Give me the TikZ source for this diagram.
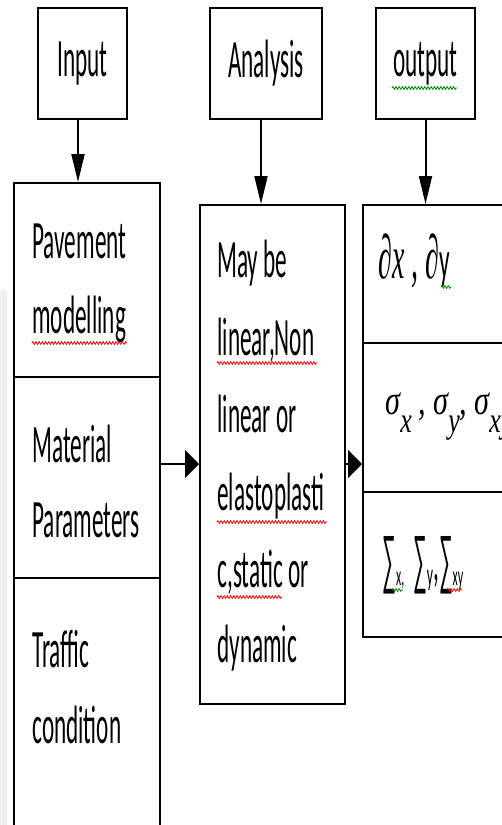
\documentclass[tikz,border=0pt]{standalone}
\usepackage{fontspec}
\setmainfont[FakeStretch=0.43]{Carlito}
\newfontfamily\serit[FakeStretch=0.45]{Liberation Serif}
\newfontfamily\sigfont[FakeStretch=0.72]{Liberation Serif}
\newfontfamily\sumfont[FakeStretch=0.3]{Liberation Sans}
\usetikzlibrary{arrows.meta,decorations.pathmorphing}
\tikzset{
  box/.style={draw, line width=1pt, fill=white, inner sep=0pt, font=\fontsize{27}{27}\selectfont},
  lbl/.style={anchor=base west, inner sep=0pt, font=\fontsize{27}{27}\selectfont},
  varr/.style={line width=1pt, -{Triangle[length=14pt,width=6.5pt]}},
  harr/.style={line width=1pt, -{Triangle[length=7pt,width=14pt]}},
  squig/.style={line width=0.4pt, decorate, decoration={zigzag, segment length=1.6pt, amplitude=0.7pt}},
  redsq/.style={squig, draw=red},
  greensq/.style={squig, draw=green!55!black},
  divider/.style={line width=1pt}
}
\newcommand{\bigsum}{{\sumfont\fontsize{32}{32}\selectfont ∑}}
\begin{document}
\begin{tikzpicture}[x=0.5pt,y=-0.5pt]
\useasboundingbox (0,0) rectangle (502,825);
\clip (0,0) rectangle (502,825);
\fill[black!6] (0,290) rectangle (7,825);

% header boxes
\node[box, minimum width=44.5pt, minimum height=55.5pt] (in) at (82.5,63.5) {Input};
\node[box, minimum width=56pt, minimum height=55.5pt] (an) at (266,63.5) {Analysis};
\node[box, minimum width=49.5pt, minimum height=55.5pt] (out) at (425.5,63.5) {output};

% column boxes
\node[box, minimum width=73pt, minimum height=340pt] (lcol) at (87,523) {};
\node[box, minimum width=72.5pt, minimum height=249.5pt] (mid) at (272.5,454.5) {};
\node[box, minimum width=88.5pt, minimum height=216pt] (rcol) at (451.5,421) {};

% dividers
\coordinate (d1) at (0,377);
\coordinate (d2) at (0,578);
\coordinate (d3) at (0,343);
\coordinate (d4) at (0,492);
\draw[divider] (lcol.west |- d1) -- (lcol.east |- d1);
\draw[divider] (lcol.west |- d2) -- (lcol.east |- d2);
\draw[divider] (rcol.west |- d3) -- (rcol.east |- d3);
\draw[divider] (rcol.west |- d4) -- (rcol.east |- d4);

% arrows
\coordinate (xi) at (78,0);
\coordinate (xa) at (261,0);
\coordinate (xo) at (425.5,0);
\coordinate (yh) at (0,464);
\draw[varr] (in.south -| xi) -- (lcol.north -| xi);
\draw[varr] (an.south -| xa) -- (mid.north -| xa);
\draw[varr] (out.south -| xo) -- (rcol.north -| xo);
\draw[harr] (lcol.east |- yh) -- (mid.west |- yh);
\draw[harr] (mid.east |- yh) -- (rcol.west |- yh);

% left column text
\node[lbl] (l1) at (32,258) {Pavement};
\node[lbl] (l2) at (32,333) {modelling};
\node[lbl] (l3) at (32,462) {Material};
\node[lbl] (l4) at (32,537) {Parameters};
\node[lbl] (l5) at (32,667) {Traffic};
\node[lbl] (l6) at (32,743) {condition};

% middle text
\node[lbl] (m1) at (217,277) {May be};
\node[lbl] (m2) at (217,355) {linear,Non};
\node[lbl] (m3) at (217,432) {linear or};
\node[lbl] (m4) at (217,510) {elastoplasti};
\node[lbl] (m5) at (217,587) {c,static or};
\node[lbl] (m6) at (217,662) {dynamic};

% right column text
\node[lbl] (r1) at (378,278) {{\serit\itshape\fontsize{31}{31}\selectfont ∂x , ∂}y};
\node[lbl] (r2) at (385,414) {{\sigfont\itshape\fontsize{21}{21}\selectfont σ\raisebox{-9pt}{\fontsize{18}{18}\selectfont x}\,,\,σ\raisebox{-9pt}{\fontsize{18}{18}\selectfont y},\,σ\raisebox{-9pt}{\fontsize{18}{18}\selectfont xy}}};
\node[lbl] (r3) at (382,580) {\bigsum\raisebox{-2.5pt}{\fontsize{14}{14}\selectfont x,}\,\bigsum\raisebox{-2.5pt}{\fontsize{16}{16}\selectfont y},\bigsum\raisebox{-2.5pt}{\fontsize{14}{14}\selectfont xy}};

% spell-check underlines
\draw[greensq] (392,88) -- (457,88);
\draw[redsq] (32,343) -- (127,343);
\draw[redsq] (217,363) -- (317,363);
\draw[redsq] (217,522) -- (327,522);
\draw[redsq] (217,597) -- (282,597);
\draw[greensq] (441,287) -- (451,287);
\draw[greensq] (392,590) -- (403,590);
\draw[redsq] (447,590) -- (462,590);
\end{tikzpicture}
\end{document}
